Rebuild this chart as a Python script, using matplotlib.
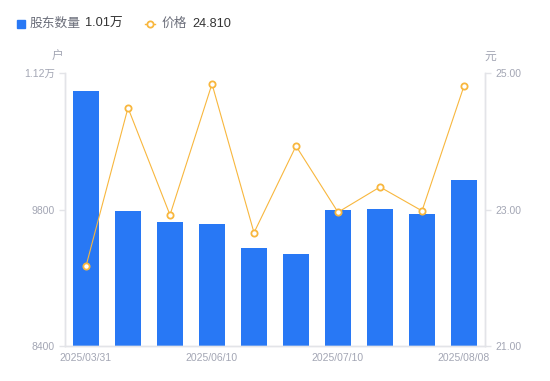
import matplotlib
matplotlib.use('Agg')
import matplotlib.pyplot as plt
from matplotlib.ticker import FixedLocator

plt.rcParams['font.family'] = ['Liberation Sans', 'Noto Sans CJK SC', 'DejaVu Sans']

# 数据
dates = ['2025/03/31', '2025/04/18', '2025/05/20', '2025/06/10', '2025/06/20',
         '2025/06/30', '2025/07/10', '2025/07/20', '2025/07/31', '2025/08/08']
holders = [11015, 9785, 9672, 9651, 9405, 9344, 9795, 9805, 9754, 10103]
price = [22.17, 24.49, 22.92, 24.84, 22.66, 23.93, 22.96, 23.33, 22.98, 24.81]
left_ticks = [8400, 9800, 11200]
left_labels = ['8400', '9800', '1.12万']
right_ticks = [21.0, 23.0, 25.0]
shown_idx = [0, 3, 6, 9]

BLUE = '#2878f5'
ORANGE = '#f8b73e'
GRAY = '#a3a6b4'
AXC = '#e3e4e8'

fig = plt.figure(figsize=(5.5, 3.81), dpi=100)
ax = fig.add_axes([65/550, 1-346/381, 420/550, 273/381])
x = list(range(len(dates)))
ax.bar(x, holders, width=0.6, color=BLUE, bottom=0, zorder=2)
ax.set_ylim(8400, 11200)
ax.set_xlim(-0.5, len(dates)-0.5)
ax.yaxis.set_major_locator(FixedLocator(left_ticks))
ax.set_yticklabels(left_labels)
ax.set_xticks([x[i] for i in shown_idx])
ax.set_xticklabels([dates[i] for i in shown_idx])

ax2 = ax.twinx()
ax2.plot(x, price, color=ORANGE, lw=0.8, marker='o', ms=4.5, mfc='white',
         mec=ORANGE, mew=1.3, zorder=3)
ax2.set_ylim(21, 25)
ax2.set_yticks(right_ticks)
ax2.set_yticklabels(['%.2f' % v for v in right_ticks])

for a in (ax, ax2):
    for s in a.spines.values():
        s.set_color(AXC)
        s.set_linewidth(1)
    a.spines['top'].set_visible(False)
    a.tick_params(colors=AXC, labelcolor=GRAY, labelsize=7.5, length=4, width=1)
ax.tick_params(axis='x', length=0, pad=5)

fig.text(58/550, 1-57/381, '户', color=GRAY, fontsize=8.5, ha='center', va='center')
fig.text(490/550, 1-57/381, '元', color=GRAY, fontsize=8.5, ha='center', va='center')

# 图例
fig.patches.append(plt.Rectangle((17/550, 1-28/381), 8/550, 8/381, color=BLUE,
                                 transform=fig.transFigure, figure=fig))
fig.text(30/550, 1-24/381, '股东数量', color='#6b6e7a', fontsize=9.2, va='center')
fig.text(85/550, 1-24/381, '1.01万', color='#333333', fontsize=9.2, va='center')
fig.lines.append(plt.Line2D([145/550, 155/550], [1-24/381, 1-24/381], color=ORANGE,
                            lw=1, transform=fig.transFigure, figure=fig))
fig.lines.append(plt.Line2D([150/550], [1-24/381], color=ORANGE, marker='o', ms=4.5,
                            mfc='white', mew=1.3, transform=fig.transFigure, figure=fig))
fig.text(162/550, 1-24/381, '价格', color='#6b6e7a', fontsize=9.2, va='center')
fig.text(192/550, 1-24/381, '24.810', color='#333333', fontsize=9.2, va='center')

fig.savefig('out.png', dpi=100)
